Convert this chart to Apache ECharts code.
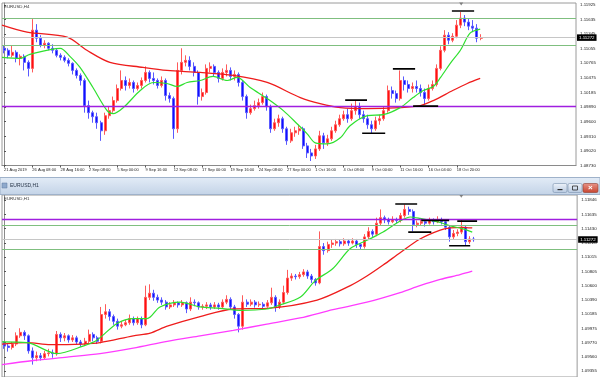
<!DOCTYPE html>
<html><head><meta charset="utf-8">
<script src="https://cdn.jsdelivr.net/npm/echarts@6/dist/echarts.min.js"></script>
<style>html,body{margin:0;padding:0;background:#fff}#c{width:600px;height:377px}</style>
</head><body><div id="c"></div><script>
// ---------- data ----------
const h4TimeLabels = ['21 Aug 2019','26 Aug 08:00','28 Aug 16:00','2 Sep 08:00','5 Sep 00:00','9 Sep 16:00','12 Sep 08:00','17 Sep 00:00','19 Sep 16:00','24 Sep 08:00','27 Sep 00:00','1 Oct 16:00','4 Oct 08:00','9 Oct 00:00','11 Oct 16:00','16 Oct 04:00','18 Oct 20:00'];
const h4PriceTicks = [1.08730,1.09020,1.09310,1.09600,1.09890,1.10185,1.10475,1.10765,1.11055,1.11345,1.11635,1.11925];
const h1PriceTicks = [1.09355,1.09560,1.09770,1.09975,1.10185,1.10390,1.10600,1.10805,1.11015,1.11220,1.11430,1.11635,1.11846];
const lastPrice = 1.11272;
// [open, close, low, high]
const h4Candles = [
[1.1106,1.1102,1.1096,1.1112],[1.1102,1.1092,1.1086,1.1106],[1.1092,1.1098,1.1088,1.1112],[1.1098,1.1086,1.1078,1.1102],
[1.1086,1.1090,1.1072,1.1094],[1.1090,1.1078,1.1062,1.1094],[1.1078,1.1066,1.1050,1.1082],[1.1066,1.1142,1.1058,1.1164],
[1.1142,1.1126,1.1118,1.1154],[1.1126,1.1112,1.1108,1.1132],[1.1112,1.1116,1.1106,1.1122],[1.1116,1.1106,1.1102,1.1118],
[1.1106,1.1102,1.1096,1.1114],[1.1102,1.1092,1.1088,1.1106],[1.1092,1.1088,1.1082,1.1096],[1.1088,1.1082,1.1078,1.1092],
[1.1082,1.1076,1.1070,1.1086],[1.1076,1.1062,1.1054,1.1078],[1.1062,1.1052,1.1046,1.1066],[1.1052,1.1042,1.1032,1.1056],
[1.1042,1.0992,1.0978,1.1046],[1.0992,1.0978,1.0966,1.1002],[1.0978,1.0970,1.0958,1.0982],[1.0970,1.0958,1.0946,1.0978],
[1.0958,1.0942,1.0922,1.0962],[1.0942,1.0972,1.0934,1.0978],[1.0972,1.0982,1.0966,1.0990],[1.0982,1.1002,1.0978,1.1010],
[1.1002,1.1026,1.0998,1.1034],[1.1026,1.1042,1.1022,1.1062],[1.1042,1.1032,1.1022,1.1050],[1.1032,1.1038,1.1026,1.1046],
[1.1038,1.1026,1.1018,1.1042],[1.1026,1.1032,1.1022,1.1038],[1.1032,1.1042,1.1026,1.1048],[1.1042,1.1058,1.1038,1.1070],
[1.1058,1.1046,1.1038,1.1062],[1.1046,1.1042,1.1034,1.1058],[1.1042,1.1032,1.1026,1.1046],[1.1032,1.1042,1.1028,1.1050],
[1.1042,1.1012,1.1002,1.1046],[1.1012,1.1006,1.0998,1.1018],[1.1006,1.0946,1.0926,1.1010],[1.0946,1.1062,1.0938,1.1078],
[1.1062,1.1078,1.1054,1.1106],[1.1078,1.1082,1.1070,1.1092],[1.1082,1.1070,1.1062,1.1090],[1.1070,1.1058,1.1050,1.1078],
[1.1058,1.1010,1.0994,1.1062],[1.1010,1.1018,1.1002,1.1026],[1.1018,1.1066,1.1014,1.1074],[1.1066,1.1070,1.1058,1.1078],
[1.1070,1.1058,1.1050,1.1074],[1.1058,1.1046,1.1038,1.1062],[1.1046,1.1058,1.1042,1.1066],[1.1058,1.1062,1.1050,1.1074],
[1.1062,1.1050,1.1042,1.1068],[1.1050,1.1054,1.1042,1.1062],[1.1054,1.1038,1.1030,1.1058],[1.1038,1.1010,1.1002,1.1042],
[1.1010,1.0978,1.0966,1.1014],[1.0978,1.0986,1.0974,1.0994],[1.0986,1.0992,1.0982,1.1002],[1.0992,1.0998,1.0986,1.1006],
[1.0998,1.1010,1.0994,1.1018],[1.1010,1.0990,1.0982,1.1014],[1.0990,1.0946,1.0938,1.0994],[1.0946,1.0958,1.0942,1.0966],
[1.0958,1.0966,1.0950,1.0974],[1.0966,1.0946,1.0938,1.0970],[1.0946,1.0922,1.0914,1.0950],[1.0922,1.0938,1.0918,1.0946],
[1.0938,1.0942,1.0930,1.0950],[1.0942,1.0946,1.0934,1.0954],[1.0946,1.0912,1.0906,1.0950],[1.0912,1.0898,1.0888,1.0918],
[1.0898,1.0892,1.0882,1.0906],[1.0892,1.0906,1.0886,1.0914],[1.0906,1.0932,1.0902,1.0942],[1.0932,1.0918,1.0906,1.0938],
[1.0918,1.0926,1.0912,1.0934],[1.0926,1.0942,1.0922,1.0950],[1.0942,1.0954,1.0938,1.0962],[1.0954,1.0966,1.0950,1.0974],
[1.0966,1.0974,1.0962,1.0982],[1.0974,1.0966,1.0958,1.0986],[1.0966,1.0982,1.0962,1.0996],[1.0982,1.0990,1.0974,1.1002],
[1.0990,1.0974,1.0966,1.0998],[1.0974,1.0966,1.0958,1.0982],[1.0966,1.0954,1.0946,1.0974],[1.0954,1.0946,1.0936,1.0962],
[1.0946,1.0962,1.0942,1.0970],[1.0962,1.0966,1.0954,1.0974],[1.0966,1.0982,1.0962,1.0990],[1.0982,1.1022,1.0978,1.1032],
[1.1022,1.1016,1.1006,1.1030],[1.1016,1.1006,1.0998,1.1022],[1.1006,1.1042,1.1002,1.1062],[1.1042,1.1034,1.1022,1.1050],
[1.1034,1.1026,1.1018,1.1042],[1.1026,1.1030,1.1018,1.1038],[1.1030,1.1026,1.1018,1.1042],[1.1026,1.1018,1.1010,1.1034],
[1.1018,1.1006,1.0994,1.1026],[1.1006,1.1026,1.1002,1.1034],[1.1026,1.1034,1.1022,1.1042],[1.1034,1.1066,1.1030,1.1074],
[1.1066,1.1102,1.1062,1.1110],[1.1102,1.1132,1.1098,1.1142],[1.1132,1.1122,1.1114,1.1138],[1.1122,1.1130,1.1118,1.1136],
[1.1130,1.1152,1.1126,1.1162],[1.1152,1.1166,1.1146,1.1178],[1.1166,1.1158,1.1150,1.1172],[1.1158,1.1150,1.1142,1.1166],
[1.1150,1.1146,1.1138,1.1162],[1.1146,1.1126,1.1118,1.1154],[1.1126,1.1127,1.1122,1.1134]
];
const h1Candles = [
[1.0975,1.0972,1.0968,1.0979],[1.0972,1.0970,1.0964,1.0975],[1.0970,1.0975,1.0967,1.0978],[1.0975,1.0987,1.0972,1.0992],
[1.0987,1.0992,1.0984,1.0998],[1.0992,1.0987,1.0981,1.0995],[1.0987,1.0965,1.0961,1.0989],[1.0965,1.0955,1.0945,1.0970],
[1.0955,1.0958,1.0950,1.0964],[1.0958,1.0955,1.0951,1.0962],[1.0955,1.0961,1.0953,1.0965],[1.0961,1.0962,1.0957,1.0968],
[1.0962,1.0961,1.0955,1.0967],[1.0961,1.0989,1.0958,1.0994],[1.0989,1.0984,1.0978,1.0992],[1.0984,1.0987,1.0979,1.0991],
[1.0987,1.0981,1.0977,1.0989],[1.0981,1.0984,1.0978,1.0988],[1.0984,1.0978,1.0974,1.0987],[1.0978,1.0975,1.0971,1.0981],
[1.0975,1.0979,1.0972,1.0984],[1.0979,1.0989,1.0976,1.0996],[1.0989,1.0984,1.0979,1.0992],[1.0984,1.0979,1.0975,1.0987],
[1.0979,1.1018,1.0976,1.1029],[1.1018,1.1022,1.1012,1.1033],[1.1022,1.1015,1.1009,1.1026],[1.1015,1.1008,1.1003,1.1018],
[1.1008,1.1001,1.0996,1.1012],[1.1001,1.1003,1.0998,1.1008],[1.1003,1.1006,1.1001,1.1010],[1.1006,1.1012,1.1003,1.1018],
[1.1012,1.1006,1.1002,1.1015],[1.1006,1.1012,1.1003,1.1015],[1.1012,1.1003,1.0998,1.1015],[1.1003,1.1043,1.1001,1.1060],
[1.1043,1.1049,1.1039,1.1062],[1.1049,1.1043,1.1038,1.1054],[1.1043,1.1039,1.1035,1.1047],[1.1039,1.1036,1.1032,1.1043],
[1.1036,1.1029,1.1025,1.1039],[1.1029,1.1032,1.1026,1.1036],[1.1032,1.1035,1.1029,1.1039],[1.1035,1.1032,1.1028,1.1037],
[1.1032,1.1035,1.1029,1.1039],[1.1035,1.1026,1.1020,1.1037],[1.1026,1.1036,1.1023,1.1043],[1.1036,1.1035,1.1030,1.1040],
[1.1035,1.1029,1.1025,1.1037],[1.1029,1.1030,1.1025,1.1033],[1.1030,1.1032,1.1026,1.1036],[1.1032,1.1029,1.1025,1.1035],
[1.1029,1.1032,1.1026,1.1036],[1.1032,1.1029,1.1025,1.1035],[1.1029,1.1036,1.1026,1.1040],[1.1036,1.1040,1.1033,1.1046],
[1.1040,1.1029,1.1025,1.1043],[1.1029,1.1018,1.1012,1.1032],[1.1018,1.1001,1.0992,1.1020],[1.1001,1.1036,1.0996,1.1046],
[1.1036,1.1033,1.1029,1.1040],[1.1033,1.1036,1.1030,1.1040],[1.1036,1.1032,1.1028,1.1039],[1.1032,1.1033,1.1029,1.1037],
[1.1033,1.1030,1.1026,1.1036],[1.1030,1.1035,1.1028,1.1039],[1.1035,1.1043,1.1032,1.1057],[1.1043,1.1029,1.1022,1.1046],
[1.1029,1.1036,1.1026,1.1040],[1.1036,1.1050,1.1033,1.1060],[1.1050,1.1071,1.1047,1.1083],[1.1071,1.1074,1.1067,1.1078],
[1.1074,1.1073,1.1069,1.1077],[1.1073,1.1076,1.1070,1.1080],[1.1076,1.1080,1.1073,1.1084],[1.1080,1.1074,1.1070,1.1083],
[1.1074,1.1069,1.1064,1.1077],[1.1069,1.1064,1.1060,1.1071],[1.1064,1.1117,1.1062,1.1139],[1.1117,1.1111,1.1105,1.1122],
[1.1111,1.1120,1.1108,1.1124],[1.1120,1.1122,1.1115,1.1127],[1.1122,1.1124,1.1118,1.1128],[1.1124,1.1121,1.1117,1.1127],
[1.1121,1.1125,1.1118,1.1129],[1.1125,1.1122,1.1118,1.1128],[1.1122,1.1125,1.1120,1.1129],[1.1125,1.1120,1.1115,1.1128],
[1.1120,1.1117,1.1112,1.1122],[1.1117,1.1131,1.1114,1.1135],[1.1131,1.1139,1.1128,1.1145],[1.1139,1.1135,1.1131,1.1142],
[1.1135,1.1151,1.1132,1.1159],[1.1151,1.1159,1.1148,1.1171],[1.1159,1.1156,1.1151,1.1162],[1.1156,1.1153,1.1149,1.1159],
[1.1153,1.1156,1.1151,1.1161],[1.1156,1.1155,1.1151,1.1159],[1.1155,1.1162,1.1152,1.1166],[1.1162,1.1171,1.1159,1.1178],
[1.1171,1.1168,1.1163,1.1175],[1.1168,1.1149,1.1139,1.1171],[1.1149,1.1151,1.1145,1.1155],[1.1151,1.1153,1.1148,1.1158],
[1.1153,1.1151,1.1146,1.1156],[1.1151,1.1155,1.1149,1.1159],[1.1155,1.1153,1.1149,1.1158],[1.1153,1.1156,1.1151,1.1161],
[1.1156,1.1153,1.1149,1.1159],[1.1153,1.1145,1.1141,1.1156],[1.1145,1.1131,1.1124,1.1148],[1.1131,1.1136,1.1128,1.1141],
[1.1136,1.1138,1.1132,1.1142],[1.1138,1.1145,1.1135,1.1156],[1.1145,1.1124,1.1118,1.1148],[1.1124,1.1128,1.1121,1.1132],
[1.1128,1.1127,1.1124,1.1131]
];
// moving averages: [bar position, price]
const h4SlowMA = [[-0.5,1.1152],[5.7,1.1138],[15.6,1.1128],[20.5,1.1102],[26.2,1.1078],[34.4,1.1068],[40.3,1.1062],[48.5,1.1058],[56.7,1.1052],[65.1,1.1038],[73.3,1.1008],[78.2,1.0996],[83.2,1.0988],[89.9,1.0986],[98,1.0988],[103,1.0992],[106.2,1.1002],[111,1.1022],[114.6,1.1036],[117.8,1.1046]];
const h4FastMA = [[-0.5,1.1088],[4,1.1086],[6.4,1.1094],[13.9,1.1106],[16.3,1.1090],[18.8,1.1068],[22,1.1028],[25.5,1.0982],[27,1.0976],[29.5,1.0988],[33.7,1.1022],[36.9,1.1038],[40.3,1.1036],[42.8,1.1030],[45.3,1.1038],[48.5,1.1042],[51.7,1.1050],[55.2,1.1042],[57.7,1.1048],[60.9,1.1028],[65.1,1.1006],[69.1,1.0982],[72.5,1.0956],[75,1.0936],[77,1.0918],[80,1.0916],[83.2,1.0928],[85.6,1.0952],[89.9,1.0972],[93.8,1.0974],[98,1.0988],[101.2,1.1008],[103.7,1.1022],[106.2,1.1030],[108,1.1048],[110.4,1.1076],[112.9,1.1102],[115.3,1.1136],[117.8,1.1144]];
const h1SlowMA = [[-0.5,1.0945],[7.2,1.0951],[15.6,1.0956],[23.7,1.0961],[31.9,1.0969],[40.3,1.0979],[48.4,1.0987],[56.6,1.0995],[64.9,1.1004],[73.1,1.1013],[81.2,1.1025],[89.6,1.1036],[97.8,1.1050],[102.7,1.1060],[107.7,1.1069],[112.6,1.1076],[115.6,1.1081]];
const h1MidMA = [[-0.5,1.0975],[5.7,1.0977],[11.4,1.0974],[19.5,1.0975],[23.7,1.0977],[31.9,1.0987],[36.1,1.0991],[40.3,1.1001],[48.4,1.1015],[56.6,1.1026],[64.9,1.1027],[77.3,1.1039],[85.5,1.1060],[89.6,1.1074],[93.6,1.1090],[97.8,1.1108],[102.7,1.1128],[107.7,1.1141],[110.2,1.1144],[113.1,1.1145],[115.6,1.1144]];
const h1FastMA = [[-0.5,1.0978],[5.7,1.0977],[13.1,1.0961],[19.5,1.0972],[23,1.0981],[27.9,1.1005],[31.9,1.1012],[35.3,1.1012],[38.5,1.1029],[43.5,1.1036],[48.4,1.1029],[53.3,1.1027],[58.3,1.1024],[64.9,1.1026],[68.2,1.1032],[73.1,1.1043],[76.8,1.1067],[81.2,1.1085],[85.5,1.1114],[89.6,1.1126],[93.6,1.1138],[97.8,1.1154],[100.3,1.1160],[102.7,1.1158],[107.7,1.1152],[110.2,1.1147],[113.1,1.1143],[115.6,1.1138]];
// horizontal levels
const h4GreenLevels = [1.11656, 1.11126];
const h4PurpleLevels = [1.0990];
const h1GreenLevels = [1.11478, 1.11129];
const h1PurpleLevels = [1.11563];
// short black marks: [from bar, to bar, price]
const h4Marks = [[84.4,89.8,1.1003],[88.6,94.3,1.0937],[96.2,101.7,1.1065],[101.2,107.4,1.0991],[110.8,116.3,1.1180]];
const h1Marks = [[96.6,102.0,1.1179],[99.8,105.5,1.1138],[103.0,109.9,1.1155],[111.9,116.8,1.1154],[109.9,115.1,1.1118]];
const h4ShiftMark = [[113.1,1.1194]];
const h1ShiftMark = [[112.9,1.1190]];

// ---------- chart ----------
const SLOTS = 142;
const cats = Array.from({length: SLOTS}, (_, i) => String(i));
const FONT = 'Liberation Sans';
const upC = '#ff1010', dnC = '#1010ff';

function levelLine(v, color, w) { return {yAxis: v, lineStyle: {color: color, width: w, type: 'solid'}, label: {show: false}}; }
function lastLine() {
  return {yAxis: lastPrice, lineStyle: {color: '#c6c6c6', width: 1, type: 'solid'},
    label: {show: true, position: 'end', distance: 1, formatter: lastPrice.toFixed(5), backgroundColor: '#000', color: '#fff',
      fontSize: 4.4, fontFamily: FONT, padding: [1.5, 2, 1, 2]}};
}
function yAxisCfg(grid, min, max, ticks) {
  return {type: 'value', gridIndex: grid, position: 'right', min: min, max: max, scale: true,
    splitLine: {show: false},
    axisLine: {show: true, lineStyle: {color: '#8a8a8a', width: 1}},
    axisTick: {show: true, length: 2, customValues: ticks, lineStyle: {color: '#555'}},
    axisLabel: {show: true, customValues: ticks, formatter: v => v.toFixed(5), fontSize: 4.4, fontFamily: FONT, color: '#222', margin: 4}};
}
function candle(data, xi, yi, marks) {
  return {type: 'candlestick', xAxisIndex: xi, yAxisIndex: yi, data: data, barWidth: 2.5, z: 3,
    itemStyle: {color: upC, color0: dnC, borderColor: '#ff5a5a', borderColor0: '#5a5aff', borderWidth: 1},
    markLine: {symbol: ['none', 'none'], silent: true, animation: false, precision: 5, data: marks}};
}
function maLine(data, xi, yi, color, w) {
  return {type: 'line', xAxisIndex: xi, yAxisIndex: yi, data: data, smooth: 0.3, symbol: 'none', silent: true, z: 4,
    lineStyle: {color: color, width: w}};
}
function segs(marks, xi, yi) {
  return marks.map(m => ({type: 'line', xAxisIndex: xi, yAxisIndex: yi, data: [[m[0], m[2]], [m[1], m[2]]],
    symbol: 'none', silent: true, z: 6, lineStyle: {color: '#000', width: 1.6}}));
}
function shift(data, xi, yi) {
  return {type: 'scatter', xAxisIndex: xi, yAxisIndex: yi, data: data, symbol: 'triangle', symbolRotate: 180,
    symbolSize: [4, 3], itemStyle: {color: '#6a6a6a'}, silent: true, z: 6};
}

const chart = echarts.init(document.getElementById('c'), null, {renderer: 'canvas'});
chart.setOption({
  animation: false,
  backgroundColor: '#ffffff',
  grid: [
    {left: 2, top: 3, width: 574, height: 162.5, show: true, borderColor: '#9a9a9a', borderWidth: 1, backgroundColor: '#fff'},
    {left: 2, top: 195, width: 575.5, height: 187, show: true, borderColor: '#9a9a9a', borderWidth: 1, backgroundColor: '#fff'}
  ],
  xAxis: [
    {type: 'category', gridIndex: 0, data: cats, boundaryGap: true,
      axisLine: {show: true, lineStyle: {color: '#8a8a8a'}},
      axisTick: {show: true, length: 2, alignWithLabel: true, interval: i => i % 7 === 0 && i / 7 < h4TimeLabels.length, lineStyle: {color: '#555'}},
      axisLabel: {show: true, interval: i => i % 7 === 0 && i / 7 < h4TimeLabels.length,
        formatter: (v, i) => (i % 7 === 0 ? (h4TimeLabels[i / 7] || '') : ''),
        align: 'left', fontSize: 4, fontFamily: FONT, color: '#222', margin: 2.5}},
    {type: 'value', gridIndex: 0, min: -0.5, max: SLOTS - 0.5, show: false},
    {type: 'category', gridIndex: 1, data: cats, boundaryGap: true, show: false},
    {type: 'value', gridIndex: 1, min: -0.5, max: SLOTS - 0.5, show: false}
  ],
  yAxis: [
    yAxisCfg(0, 1.0873, 1.1196, h4PriceTicks),
    yAxisCfg(1, 1.0927, 1.1192, h1PriceTicks)
  ],
  series: [
    candle(h4Candles, 0, 0, [
      ...h4GreenLevels.map(v => levelLine(v, '#7fbf7f', 1)),
      ...h4PurpleLevels.map(v => levelLine(v, '#a01ee0', 1.3)),
      lastLine()
    ]),
    maLine(h4SlowMA, 1, 0, '#ee1c1c', 1.3),
    maLine(h4FastMA, 1, 0, '#2fe02f', 1.2),
    ...segs(h4Marks, 1, 0),
    shift(h4ShiftMark, 1, 0),
    candle(h1Candles, 2, 1, [
      ...h1GreenLevels.map(v => levelLine(v, '#7fbf7f', 1)),
      ...h1PurpleLevels.map(v => levelLine(v, '#a01ee0', 1.3)),
      lastLine()
    ]),
    maLine(h1SlowMA, 3, 1, '#ff3cff', 1.3),
    maLine(h1MidMA, 3, 1, '#ee1c1c', 1.3),
    maLine(h1FastMA, 3, 1, '#2fe02f', 1.2),
    ...segs(h1Marks, 3, 1),
    shift(h1ShiftMark, 3, 1)
  ],
  graphic: [
    {type: 'text', left: 4, top: 4.5, z: 50, style: {text: 'EURUSD,H4', fontSize: 4.4, fontFamily: FONT, fill: '#333'}},
    {type: 'rect', z: 40, shape: {x: 0, y: 177.5, width: 600, height: 17}, style: {
      fill: new echarts.graphic.LinearGradient(0, 0, 0, 1, [{offset: 0, color: '#e3ecf7'}, {offset: 1, color: '#c3d3e7'}]),
      stroke: '#9fb2ca', lineWidth: 1}},
    {type: 'rect', z: 41, shape: {x: 2, y: 183, width: 5, height: 5}, style: {fill: '#8ea9cc', stroke: '#5c7aa3', lineWidth: 0.5}},
    {type: 'text', z: 41, left: 10, top: 183.3, style: {text: 'EURUSD,H1', fontSize: 5, fontFamily: FONT, fill: '#1f2d40'}},
    {type: 'rect', z: 41, shape: {x: 553, y: 183.5, width: 14, height: 9, r: 1.5}, style: {
      fill: new echarts.graphic.LinearGradient(0, 0, 0, 1, [{offset: 0, color: '#eef3fa'}, {offset: 1, color: '#b7c9e0'}]), stroke: '#7990ad', lineWidth: 0.6}},
    {type: 'rect', z: 42, shape: {x: 557.5, y: 189, width: 5, height: 1.2}, style: {fill: '#2a2a2a'}},
    {type: 'rect', z: 41, shape: {x: 568, y: 183.5, width: 14, height: 9, r: 1.5}, style: {
      fill: new echarts.graphic.LinearGradient(0, 0, 0, 1, [{offset: 0, color: '#eef3fa'}, {offset: 1, color: '#b7c9e0'}]), stroke: '#7990ad', lineWidth: 0.6}},
    {type: 'rect', z: 42, shape: {x: 572.5, y: 186, width: 5, height: 4}, style: {fill: 'none', stroke: '#2a2a2a', lineWidth: 0.8}},
    {type: 'rect', z: 41, shape: {x: 583, y: 183.5, width: 15, height: 9, r: 1.5}, style: {
      fill: new echarts.graphic.LinearGradient(0, 0, 0, 1, [{offset: 0, color: '#e8958a'}, {offset: 1, color: '#c6432f'}]), stroke: '#8e3a2e', lineWidth: 0.6}},
    {type: 'text', z: 42, left: 588, top: 183.5, style: {text: '×', fontSize: 8, fontFamily: FONT, fill: '#fff', fontWeight: 'bold'}},
    {type: 'text', left: 4, top: 196.5, z: 50, style: {text: 'EURUSD,H1', fontSize: 4.4, fontFamily: FONT, fill: '#333'}}
  ]
});
</script></body></html>
